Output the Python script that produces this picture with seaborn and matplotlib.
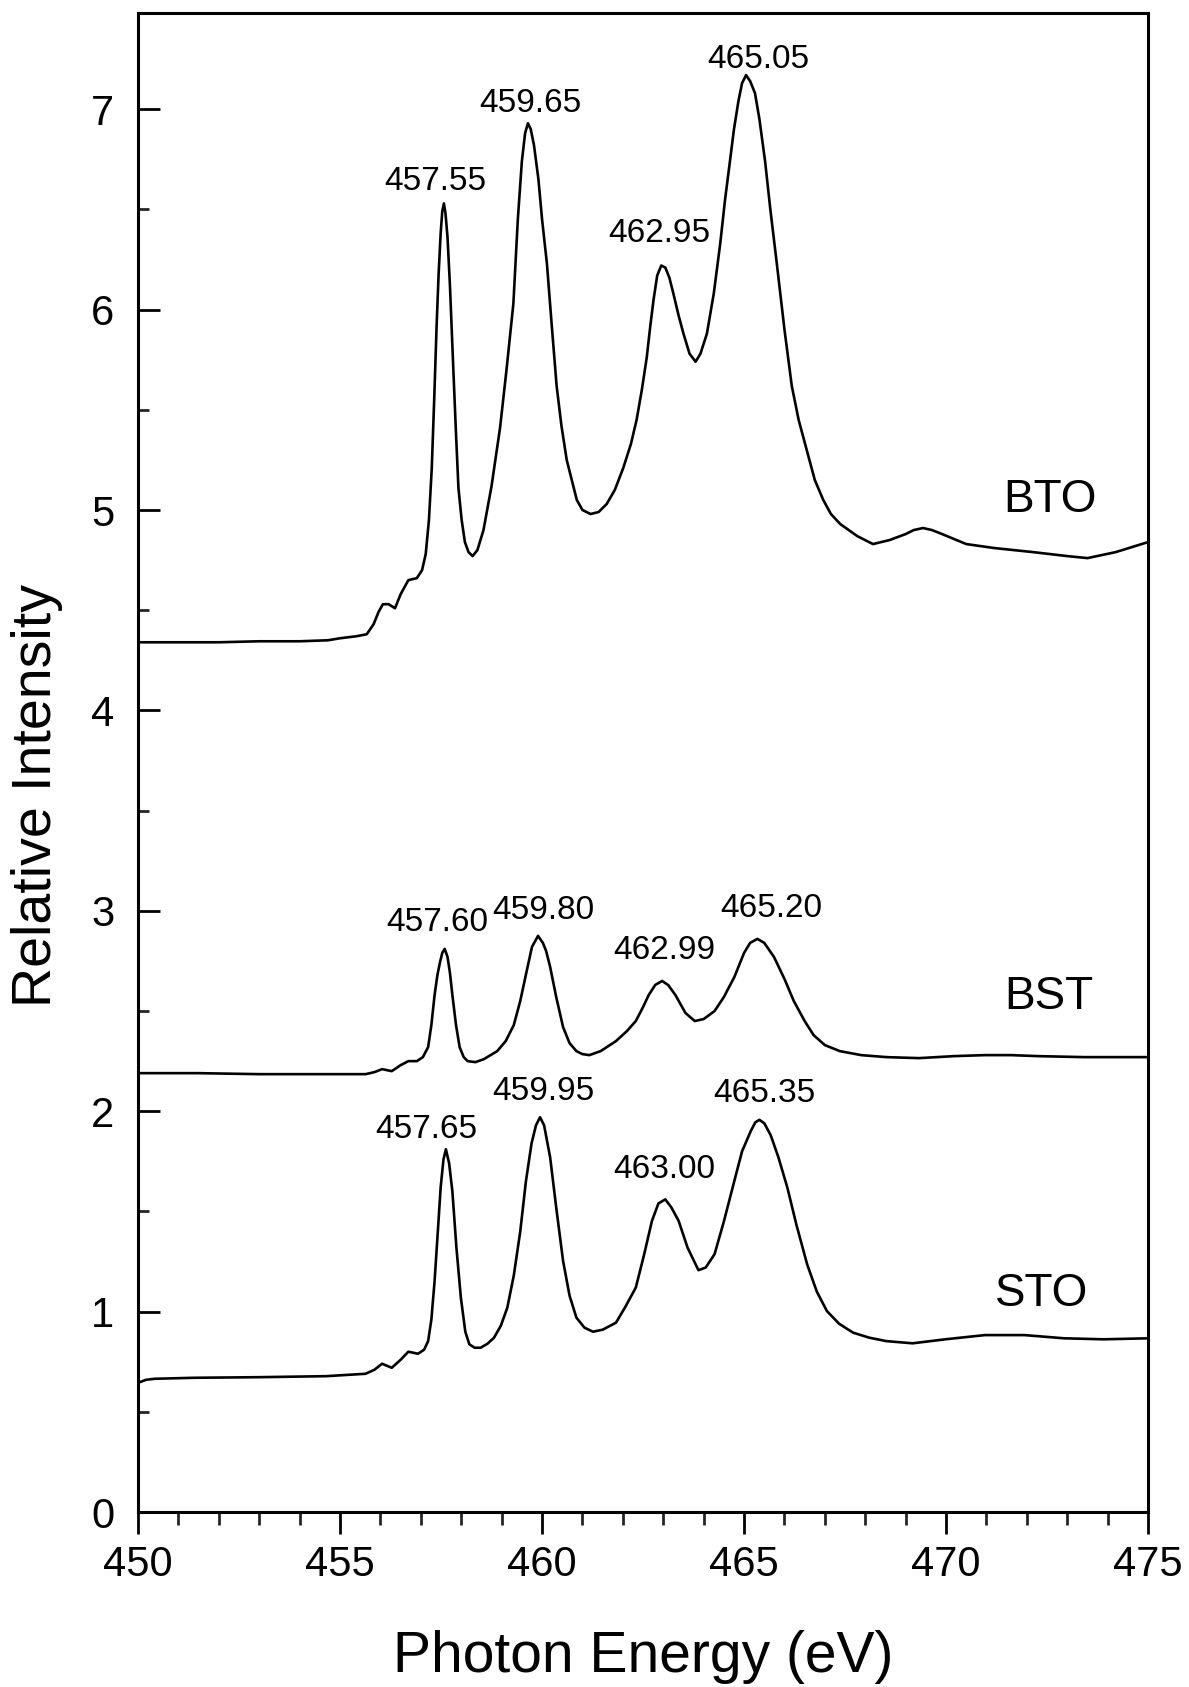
import numpy as np
import pandas as pd
import matplotlib
matplotlib.use("Agg")
import matplotlib.pyplot as plt
import seaborn as sns
from matplotlib.ticker import MultipleLocator

# ---------------- data ----------------
bto_x = [450.0, 451.0, 452.0, 453.0, 454.0, 454.7, 455.0, 455.4, 455.66, 455.83,
         455.95, 456.06, 456.2, 456.36, 456.5, 456.69, 456.9, 457.03, 457.12, 457.2,
         457.27, 457.33, 457.39, 457.44, 457.49, 457.53, 457.57, 457.61, 457.66, 457.72,
         457.8, 457.87, 457.93, 458.01, 458.09, 458.18, 458.28, 458.4, 458.55, 458.75,
         458.96, 459.12, 459.29, 459.4, 459.5, 459.58, 459.65, 459.72, 459.8, 459.91,
         460.0, 460.12, 460.24, 460.36, 460.48, 460.61, 460.86, 461.0, 461.2, 461.4,
         461.6, 461.8, 462.01, 462.2, 462.34, 462.47, 462.59, 462.68, 462.76, 462.85,
         462.95, 463.05, 463.15, 463.25, 463.38, 463.5, 463.65, 463.8, 463.92, 464.08,
         464.25, 464.41, 464.53, 464.65, 464.75, 464.86, 464.95, 465.05, 465.15, 465.27,
         465.38, 465.52, 465.65, 465.81, 466.0, 466.18, 466.35, 466.55, 466.75, 466.96,
         467.15, 467.38, 467.8, 468.19, 468.6, 469.0, 469.2, 469.43, 469.65, 469.9,
         470.5, 471.2, 472.15, 473.0, 473.5, 474.2, 475.0]
bto_y = [4.34, 4.34, 4.34, 4.345, 4.345, 4.35, 4.36, 4.37, 4.38, 4.43,
         4.49, 4.53, 4.53, 4.51, 4.58, 4.65, 4.66, 4.70, 4.78, 4.95,
         5.21, 5.55, 5.92, 6.18, 6.38, 6.49, 6.53, 6.48, 6.36, 6.12,
         5.72, 5.38, 5.11, 4.95, 4.84, 4.79, 4.77, 4.80, 4.90, 5.12,
         5.41, 5.70, 6.03, 6.45, 6.74, 6.88, 6.93, 6.90, 6.82, 6.65,
         6.45, 6.23, 5.92, 5.62, 5.42, 5.25, 5.05, 5.00, 4.98, 4.99,
         5.03, 5.10, 5.21, 5.33, 5.45, 5.60, 5.76, 5.92, 6.05, 6.17,
         6.22, 6.21, 6.16, 6.08, 5.97, 5.88, 5.78, 5.74, 5.78, 5.88,
         6.08, 6.33, 6.55, 6.74, 6.90, 7.04, 7.13, 7.17, 7.14, 7.08,
         6.95, 6.74, 6.50, 6.23, 5.90, 5.62, 5.45, 5.30, 5.15, 5.05,
         4.98, 4.93, 4.87, 4.83, 4.85, 4.88, 4.90, 4.91, 4.90, 4.88,
         4.83, 4.81, 4.79, 4.77, 4.76, 4.79, 4.84]

bst_x = [450.0, 451.5, 453.0, 454.5, 455.63, 455.85, 456.04, 456.28, 456.5, 456.69,
         456.9, 457.05, 457.18, 457.26, 457.34, 457.41, 457.47, 457.53, 457.59, 457.66,
         457.72, 457.78, 457.87, 457.96, 458.06, 458.16, 458.35, 458.56, 458.89, 459.1,
         459.3, 459.46, 459.62, 459.75, 459.9, 460.02, 460.1, 460.2, 460.35, 460.52,
         460.68, 460.85, 461.0, 461.17, 461.45, 461.83, 462.1, 462.32, 462.5, 462.64,
         462.8, 462.97, 463.12, 463.3, 463.55, 463.78, 464.0, 464.27, 464.5, 464.76,
         465.0, 465.15, 465.33, 465.5, 465.74, 466.0, 466.23, 466.5, 466.72, 467.0,
         467.37, 467.9, 468.52, 469.33, 470.2, 470.96, 471.6, 472.27, 473.41, 474.2,
         475.0]
bst_y = [2.19, 2.19, 2.185, 2.185, 2.185, 2.195, 2.21, 2.20, 2.23, 2.25,
         2.25, 2.27, 2.32, 2.43, 2.58, 2.68, 2.74, 2.79, 2.81, 2.77,
         2.69, 2.58, 2.43, 2.32, 2.27, 2.25, 2.245, 2.26, 2.30, 2.35,
         2.43, 2.55, 2.70, 2.82, 2.875, 2.84, 2.80, 2.72, 2.57, 2.42,
         2.34, 2.30, 2.285, 2.28, 2.30, 2.35, 2.40, 2.45, 2.52, 2.58,
         2.63, 2.65, 2.63, 2.58, 2.49, 2.45, 2.46, 2.50, 2.57, 2.67,
         2.79, 2.84, 2.86, 2.84, 2.77, 2.66, 2.55, 2.45, 2.38, 2.33,
         2.30, 2.28, 2.27, 2.265, 2.275, 2.28, 2.28, 2.275, 2.27, 2.27,
         2.27]

sto_x = [450.0, 450.2, 450.41, 451.39, 453.0, 454.65, 455.63, 455.85, 456.04, 456.28,
         456.5, 456.69, 456.93, 457.08, 457.18, 457.26, 457.34, 457.42, 457.49, 457.56,
         457.62, 457.7, 457.78, 457.88, 457.99, 458.1, 458.2, 458.33, 458.48, 458.65,
         458.81, 458.98, 459.14, 459.3, 459.46, 459.6, 459.74, 459.85, 459.95, 460.05,
         460.2, 460.35, 460.52, 460.68, 460.85, 461.05, 461.26, 461.5, 461.83, 462.05,
         462.32, 462.52, 462.72, 462.88, 463.05, 463.2, 463.38, 463.6, 463.87, 464.05,
         464.27, 464.5, 464.76, 464.95, 465.17, 465.28, 465.38, 465.5, 465.66, 465.85,
         466.07, 466.3, 466.56, 466.8, 467.05, 467.35, 467.7, 468.1, 468.52, 469.17,
         469.98, 470.96, 471.94, 472.92, 473.9, 475.0]
sto_y = [0.645, 0.66, 0.665, 0.67, 0.673, 0.678, 0.69, 0.71, 0.74, 0.72,
         0.76, 0.80, 0.79, 0.81, 0.853, 0.96, 1.153, 1.40, 1.62, 1.76,
         1.81, 1.74, 1.60, 1.32, 1.07, 0.90, 0.837, 0.82, 0.82, 0.84,
         0.87, 0.93, 1.02, 1.18, 1.40, 1.65, 1.84, 1.93, 1.97, 1.93,
         1.77, 1.52, 1.253, 1.08, 0.97, 0.92, 0.90, 0.91, 0.945, 1.02,
         1.12, 1.28, 1.453, 1.54, 1.56, 1.52, 1.453, 1.32, 1.207, 1.22,
         1.287, 1.45, 1.653, 1.80, 1.903, 1.945, 1.957, 1.94, 1.88, 1.77,
         1.62, 1.43, 1.237, 1.10, 1.003, 0.94, 0.895, 0.87, 0.853, 0.842,
         0.862, 0.883, 0.883, 0.867, 0.862, 0.867]

peak_labels = ["457.55", "459.65", "462.95", "465.05",
               "457.60", "459.80", "462.99", "465.20",
               "457.65", "459.95", "463.00", "465.35"]
peak_label_x = [457.37, 459.72, 462.89, 465.34,
                457.40, 460.04, 463.02, 465.68,
                457.14, 460.04, 463.02, 465.50]
peak_label_y = [6.64, 7.03, 6.38, 7.25,
                2.94, 3.00, 2.80, 3.01,
                1.91, 2.10, 1.71, 2.09]

series_names = ["BTO", "BST", "STO"]
series_label_x = [472.58, 472.55, 472.36]
series_label_y = [5.05, 2.57, 1.09]

x_ticks = [450, 455, 460, 465, 470, 475]
y_ticks = [0, 1, 2, 3, 4, 5, 6, 7]

# ---------------- drawing ----------------
sns.set_theme(style="ticks")
plt.rcParams['font.family'] = ['Liberation Sans', 'DejaVu Sans']

fig = plt.figure(figsize=(11.89, 16.87), dpi=100)
ax = fig.add_axes([0.1161, 0.1037, 0.8495, 0.8886])

for xs, ys in [(bto_x, bto_y), (bst_x, bst_y), (sto_x, sto_y)]:
    df = pd.DataFrame({"energy": xs, "intensity": ys})
    sns.lineplot(data=df, x="energy", y="intensity", ax=ax, color="black",
                 linewidth=1.9, estimator=None, sort=False)

for t, x, y in zip(peak_labels, peak_label_x, peak_label_y):
    ax.text(x, y, t, fontsize=24, ha="center", va="center", color="black")
for t, x, y in zip(series_names, series_label_x, series_label_y):
    ax.text(x, y, t, fontsize=33, ha="center", va="center", color="black")

ax.set_xlim(450, 475)
ax.set_ylim(0, 7.48)
ax.set_xticks(x_ticks)
ax.set_yticks(y_ticks)
ax.set_xticklabels([str(v) for v in x_ticks])
ax.set_yticklabels([str(v) for v in y_ticks])
ax.xaxis.set_minor_locator(MultipleLocator(1))
ax.yaxis.set_minor_locator(MultipleLocator(0.5))

ax.tick_params(axis="x", which="major", direction="out", length=16, width=2,
               labelsize=30, pad=8, colors="black", top=False)
ax.tick_params(axis="x", which="minor", direction="out", length=9, width=2, top=False)
ax.tick_params(axis="y", which="major", direction="in", length=16, width=2,
               labelsize=30, pad=17, colors="black", right=False)
ax.tick_params(axis="y", which="minor", direction="in", length=8, width=2, right=False)

for s in ax.spines.values():
    s.set_visible(True)
    s.set_linewidth(2.2)
    s.set_color("black")

ax.set_xlabel("Photon Energy (eV)", fontsize=41, labelpad=32, color="black")
ax.set_ylabel("Relative Intensity", fontsize=40, labelpad=20, color="black")
ax.yaxis.label.set_y(0.478)
ax.grid(False)
ax.set_facecolor("white")
fig.patch.set_facecolor("white")

fig.savefig("out.png", dpi=100)
